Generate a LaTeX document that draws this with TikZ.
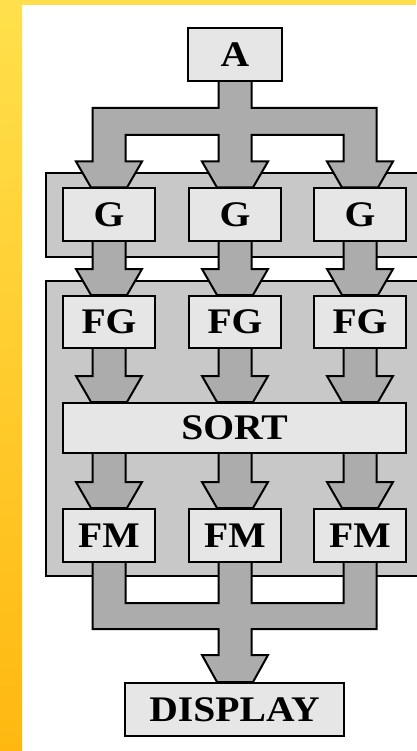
\documentclass[tikz,border=0pt]{standalone}
\usepackage{graphicx}
\usepackage{fontspec}
\setmainfont{Liberation Serif}
\usetikzlibrary{calc}
\pgfdeclarelayer{bglayer}
\pgfdeclarelayer{midlayer}
\pgfsetlayers{bglayer,midlayer,main}
\definecolor{boxfill}{RGB}{230,230,230}
\definecolor{flowfill}{RGB}{172,172,172}
\definecolor{contfill}{RGB}{200,200,200}
\definecolor{ytop}{RGB}{255,224,76}
\definecolor{ybot}{RGB}{255,184,16}
\newcommand{\sx}[1]{\scalebox{1.1}[1]{#1}}
% straight fat arrow from node #1 to node #2 at x = #3
\newcommand{\fatdown}[3]{%
  \draw[flow] let \p1=(#1.south), \p2=(#2.north) in
    (#3-16.5,\y1+2pt) -- (#3-16.5,\y2+26pt) -- (#3-33,\y2+26pt) -- (#3-18,\y2)
    -- (#3+18,\y2) -- (#3+33,\y2+26pt) -- (#3+16.5,\y2+26pt) -- (#3+16.5,\y1+2pt) -- cycle;}
\begin{document}
\begin{tikzpicture}[x=1pt,y=1pt,
  box/.style={draw=black, line width=2pt, fill=boxfill, inner sep=0pt,
    font=\fontsize{36}{40}\selectfont\bfseries},
  colbox/.style={box, minimum width=92pt, minimum height=52pt},
  flow/.style={draw=black, line width=2pt, fill=flowfill, line join=miter},
  container/.style={draw=black, line width=2pt, fill=contfill, inner sep=0pt}]
\useasboundingbox (0,0) rectangle (416,-751);
\clip (0,0) rectangle (416,-751);
\def\xL{109}\def\xM{235}\def\xR{360}
% boxes
\node[box, minimum width=94pt, minimum height=53pt] (A) at (235,-54.5) {\sx{A}};
\node[colbox] (G1) at (\xL,-214.5) {\sx{G}};
\node[colbox] (G2) at (\xM,-214.5) {\sx{G}};
\node[colbox] (G3) at (\xR,-214.5) {\sx{G}};
\node[colbox] (FG1) at (\xL,-322) {\sx{FG}};
\node[colbox] (FG2) at (\xM,-322) {\sx{FG}};
\node[colbox] (FG3) at (\xR,-322) {\sx{FG}};
\node[box, minimum width=343pt, minimum height=50pt] (SORT) at (234.5,-428) {\sx{SORT}};
\node[colbox, minimum height=53pt] (FM1) at (\xL,-535.5) {\sx{FM}};
\node[colbox, minimum height=53pt] (FM2) at (\xM,-535.5) {\sx{FM}};
\node[colbox, minimum height=53pt] (FM3) at (\xR,-535.5) {\sx{FM}};
\node[box, minimum width=219pt, minimum height=53pt] (DISP) at (234.5,-709.5) {\sx{DISPLAY}};
% background and containers
\begin{pgfonlayer}{bglayer}
\fill[white] (0,0) rectangle (416,-751);
\shade[top color=ytop, bottom color=ybot] (0,0) rectangle (22,-751);
\fill[ytop] (0,0) rectangle (416,-5);
\node[container, minimum width=384pt, minimum height=84pt] (GC) at (238,-215) {};
\node[container, minimum width=384pt, minimum height=295pt] (FGC) at (238,-428.5) {};
\end{pgfonlayer}
% flows
\begin{pgfonlayer}{midlayer}
% split from A to the three G
\draw[flow] let \p1=(A.south), \p2=(G1.north) in
  (\xM-16.5,\y1+2pt) -- (\xM-16.5,-108) -- (\xL-16.5,-108) -- (\xL-16.5,\y2+26pt)
  -- (\xL-33,\y2+26pt) -- (\xL-18,\y2) -- (\xL+18,\y2) -- (\xL+33,\y2+26pt)
  -- (\xL+16.5,\y2+26pt) -- (\xL+16.5,-135) -- (\xM-16.5,-135) -- (\xM-16.5,\y2+26pt)
  -- (\xM-33,\y2+26pt) -- (\xM-18,\y2) -- (\xM+18,\y2) -- (\xM+33,\y2+26pt)
  -- (\xM+16.5,\y2+26pt) -- (\xM+16.5,-135) -- (\xR-16.5,-135) -- (\xR-16.5,\y2+26pt)
  -- (\xR-33,\y2+26pt) -- (\xR-18,\y2) -- (\xR+18,\y2) -- (\xR+33,\y2+26pt)
  -- (\xR+16.5,\y2+26pt) -- (\xR+16.5,-108) -- (\xM+16.5,-108) -- (\xM+16.5,\y1+2pt) -- cycle;
\fatdown{G1}{FG1}{\xL}
\fatdown{G2}{FG2}{\xM}
\fatdown{G3}{FG3}{\xR}
\fatdown{FG1}{SORT}{\xL}
\fatdown{FG2}{SORT}{\xM}
\fatdown{FG3}{SORT}{\xR}
\fatdown{SORT}{FM1}{\xL}
\fatdown{SORT}{FM2}{\xM}
\fatdown{SORT}{FM3}{\xR}
% merge from the three FM to DISPLAY
\draw[flow] let \p1=(FM1.south), \p2=(DISP.north) in
  (\xL-16.5,\y1+2pt) -- (\xL-16.5,-629) -- (\xM-16.5,-629) -- (\xM-16.5,\y2+27pt)
  -- (\xM-33,\y2+27pt) -- (\xM-18,\y2) -- (\xM+18,\y2) -- (\xM+33,\y2+27pt)
  -- (\xM+16.5,\y2+27pt) -- (\xM+16.5,-629) -- (\xR+16.5,-629) -- (\xR+16.5,\y1+2pt)
  -- (\xR-16.5,\y1+2pt) -- (\xR-16.5,-603) -- (\xM+16.5,-603) -- (\xM+16.5,\y1+2pt)
  -- (\xM-16.5,\y1+2pt) -- (\xM-16.5,-603) -- (\xL+16.5,-603) -- (\xL+16.5,\y1+2pt) -- cycle;
\end{pgfonlayer}
\end{tikzpicture}
\end{document}
